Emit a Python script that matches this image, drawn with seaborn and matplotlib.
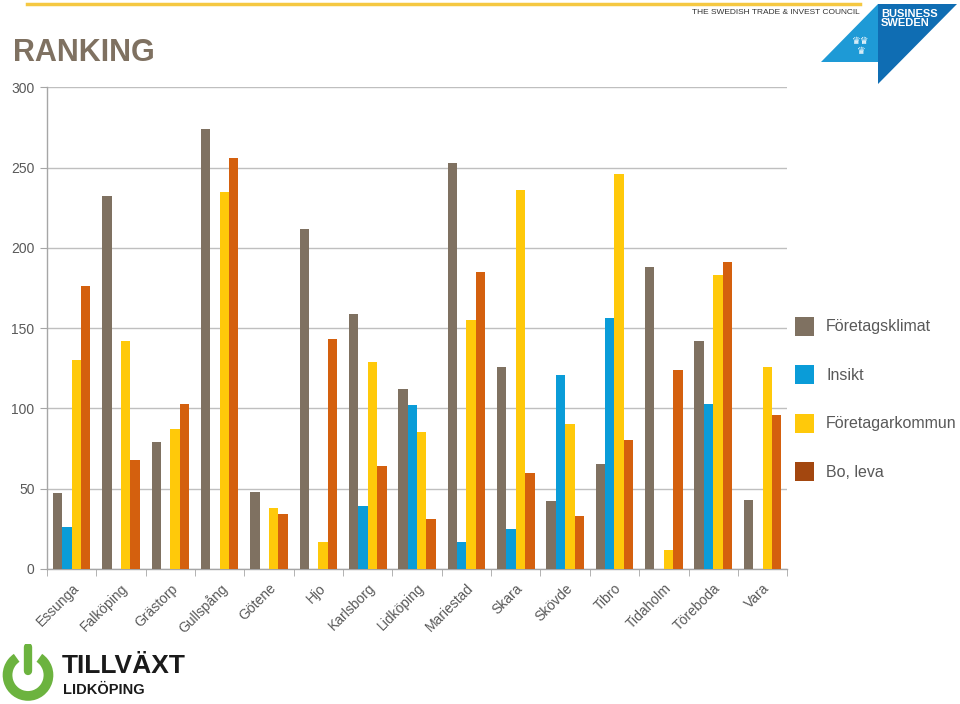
import numpy as np
import pandas as pd
import matplotlib
matplotlib.use('Agg')
import matplotlib.pyplot as plt
import seaborn as sns
from matplotlib.patches import Polygon, Arc, Rectangle

# ---------------------------
# Data
# ---------------------------
kommuner = ['Essunga', 'Falköping', 'Grästorp', 'Gullspång', 'Götene', 'Hjo',
            'Karlsborg', 'Lidköping', 'Mariestad', 'Skara', 'Skövde', 'Tibro',
            'Tidaholm', 'Töreboda', 'Vara']
series_names = ['Företagsklimat', 'Insikt', 'Företagarkommun', 'Bo, leva']

foretagsklimat = [47, 232, 79, 274, 48, 212, 159, 112, 253, 126, 42, 65, 188, 142, 43]
insikt = [26, np.nan, np.nan, np.nan, np.nan, np.nan, 39, 102, 17, 25, 121, 156, np.nan, 103, np.nan]
foretagarkommun = [130, 142, 87, 235, 38, 17, 129, 85, 155, 236, 90, 246, 12, 183, 126]
bo_leva = [176, 68, 103, 256, 34, 143, 64, 31, 185, 60, 33, 80, 124, 191, 96]

yticks = [0, 50, 100, 150, 200, 250, 300]

bar_colors = ['#7F7161', '#0A9CD8', '#FFC90A', '#D4600E']
legend_colors = ['#7F7161', '#0A9CD8', '#FFC90A', '#A3470F']
text_grey = '#595959'

# ---------------------------
# Long-form table for seaborn
# ---------------------------
df = pd.DataFrame({
    'Kommun': kommuner * 4,
    'Serie': np.repeat(series_names, len(kommuner)),
    'Rank': foretagsklimat + insikt + foretagarkommun + bo_leva,
})

plt.rcParams['font.family'] = ['Liberation Sans', 'DejaVu Sans']

fig = plt.figure(figsize=(9.6, 7.04), dpi=100)
ax = fig.add_axes([0.049, 0.192, 0.771, 0.684])

sns.barplot(data=df, x='Kommun', y='Rank', hue='Serie', order=kommuner,
            hue_order=series_names, palette=bar_colors, width=0.76,
            saturation=1, errorbar=None, ax=ax, zorder=3)

ax.set_ylim(0, 300)
ax.set_xlim(-0.5, len(kommuner) - 0.5)
ax.set_yticks(yticks)
ax.set_yticklabels([str(t) for t in yticks], fontsize=10, color=text_grey)
ax.set_xlabel('')
ax.set_ylabel('')
ax.yaxis.grid(True, color='#BFBFBF', linewidth=1, zorder=0)
ax.set_axisbelow(True)

for side in ['top', 'right']:
    ax.spines[side].set_visible(False)
for side in ['left', 'bottom']:
    ax.spines[side].set_color('#A6A6A6')
    ax.spines[side].set_linewidth(1)

ax.tick_params(axis='y', length=5, color='#A6A6A6', pad=4)
ax.set_xticks(np.arange(len(kommuner)))
ax.set_xticklabels(kommuner, rotation=45, ha='right', rotation_mode='anchor',
                   fontsize=10, color=text_grey)
ax.tick_params(axis='x', which='major', length=0, pad=9)
ax.set_xticks(np.arange(-0.5, len(kommuner)), minor=True)
ax.tick_params(axis='x', which='minor', length=5, color='#A6A6A6')

# legend with custom swatch colours
ax.legend_.remove()
handles = [Rectangle((0, 0), 1, 1, facecolor=c, edgecolor='none') for c in legend_colors]
fig.legend(handles, series_names, loc='upper left', bbox_to_anchor=(0.823, 0.557),
           frameon=False, fontsize=11.5, labelcolor=text_grey, handlelength=1.2,
           handleheight=1.45, handletextpad=0.75, labelspacing=1.85,
           borderaxespad=0, borderpad=0.3)

# ---------------------------
# Slide decorations
# ---------------------------
fig.add_artist(plt.Line2D([27 / 960, 860 / 960], [1 - 4 / 704, 1 - 4 / 704],
                          color='#F5C842', linewidth=2.5))
fig.text(13 / 960, 1 - 53 / 704, 'RANKING', fontsize=22, fontweight='bold',
         color='#7F7161', va='center', ha='left')
fig.text(860 / 960, 1 - 12 / 704, 'THE SWEDISH TRADE & INVEST COUNCIL', fontsize=6,
         color='#333333', va='center', ha='right')

def fxy(px, py):
    return (px / 960, 1 - py / 704)

fig.add_artist(Polygon([fxy(878, 4), fxy(821, 62), fxy(878, 62)], closed=True,
                       facecolor='#1E9AD6', edgecolor='none', transform=fig.transFigure))
fig.add_artist(Polygon([fxy(878, 4), fxy(957, 4), fxy(878, 84)], closed=True,
                       facecolor='#0F6DB3', edgecolor='none', transform=fig.transFigure))
fig.text(881 / 960, 1 - 9 / 704, 'BUSINESS\nSWEDEN', fontsize=8, fontweight='bold',
         color='white', va='top', ha='left', linespacing=0.85)
fig.text(861 / 960, 1 - 46 / 704, '♛♛\n♛', fontsize=7, color='white',
         va='center', ha='center', linespacing=1.0, family='DejaVu Sans')

# Tillväxt Lidköping logo
lax = fig.add_axes([0, 0, 56 / 960, 60 / 704])
lax.set_xlim(-1.3, 1.3)
lax.set_ylim(-1.3, 1.3)
lax.axis('off')
lax.add_patch(Arc((0, -0.05), 1.9, 1.8, theta1=125, theta2=415, color='#6CB33F', linewidth=7))
lax.plot([0, 0], [0.15, 1.15], color='#6CB33F', linewidth=6, solid_capstyle='round')
fig.text(62 / 960, 1 - 666 / 704, 'TILLVÄXT', fontsize=19, fontweight='bold',
         color='#1A1A1A', va='center', ha='left')
fig.text(63 / 960, 1 - 690 / 704, 'LIDKÖPING', fontsize=10.5, fontweight='bold',
         color='#1A1A1A', va='center', ha='left')

fig.savefig('out.png', dpi=100)
